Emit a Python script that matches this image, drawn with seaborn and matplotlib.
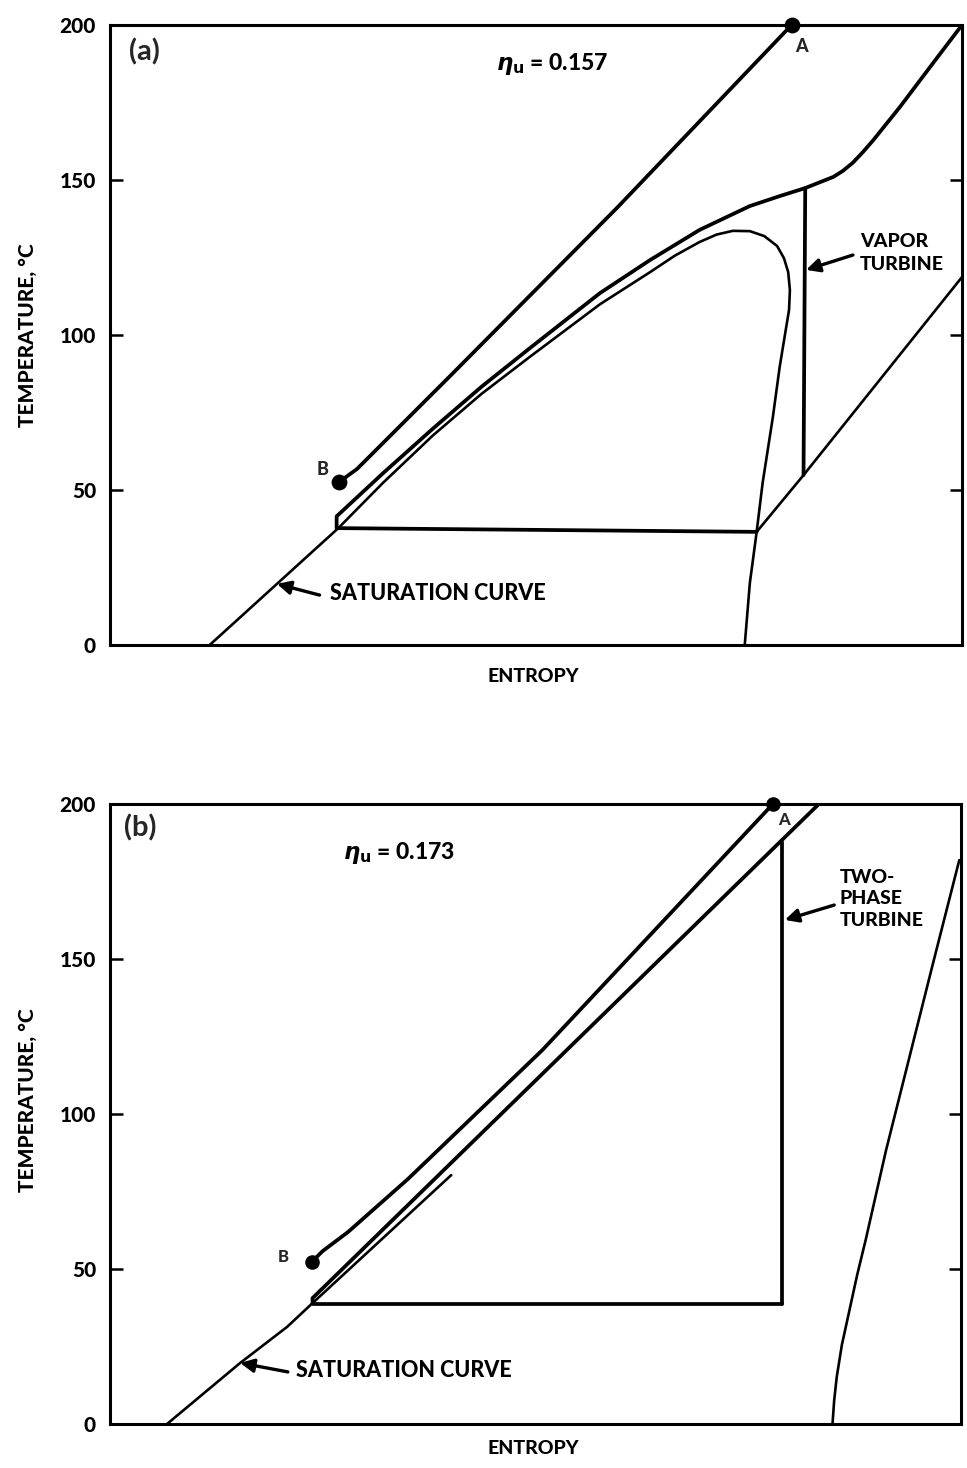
import numpy as np
import pandas as pd
import matplotlib
matplotlib.use("Agg")
import matplotlib.pyplot as plt
import seaborn as sns

# ---------------- data: panel (a), vapor turbine cycle ----------------
# entropy is in arbitrary units (0-100 across the plot), temperature in deg C
a_source_s = [26.9, 29.0, 40.0, 59.5, 80.0]
a_source_T = [52.6, 56.8, 87.0, 141.0, 200.0]

a_heat_s = [26.6, 26.6, 32.0, 37.9, 43.6, 49.3, 57.5, 63.4, 69.2, 75.1, 78.6, 81.6,
            84.9, 86.0, 87.2, 88.4, 89.6, 92.7, 96.6, 100.0]
a_heat_T = [37.7, 41.5, 55.3, 69.8, 83.3, 95.8, 113.5, 124.2, 133.9, 141.6, 144.8, 147.4,
            151.0, 152.9, 155.6, 159.1, 162.9, 173.5, 187.7, 200.0]

a_sat_s = [11.7, 26.8, 32.0, 37.9, 43.6, 49.3, 57.5, 63.4, 66.3, 69.2, 71.2, 73.1, 75.1,
           76.8, 78.3, 79.1, 79.6, 79.8, 79.7, 78.6, 77.8, 76.6, 75.9, 75.1, 74.5]
a_sat_T = [0.0, 37.7, 52.2, 67.6, 81.0, 93.0, 109.9, 120.3, 125.6, 130.0, 132.4, 133.6, 133.5,
           131.9, 128.7, 124.8, 120.3, 114.5, 108.1, 89.7, 73.5, 52.3, 36.5, 20.0, 0.0]

a_cond_s = [26.8, 75.9]
a_cond_T = [37.7, 36.5]

a_turb_s = [81.6, 81.4]
a_turb_T = [147.4, 54.8]

a_desup_s = [75.9, 81.4, 100.0]
a_desup_T = [36.5, 54.8, 118.7]

a_points_s = [80.0, 26.9]
a_points_T = [200.0, 52.6]

# ---------------- data: panel (b), two-phase turbine cycle ----------------
b_source_s = [23.7, 25.0, 28.0, 35.0, 50.8, 77.9]
b_source_T = [52.3, 55.8, 62.0, 79.0, 120.6, 200.0]

b_heat_s = [23.8, 23.8, 83.3]
b_heat_T = [39.0, 40.6, 200.0]

b_liq_s = [6.7, 15.3, 20.8, 23.8, 40.1]
b_liq_T = [0.0, 19.7, 31.3, 39.0, 80.3]

b_vap_s = [84.9, 85.1, 85.4, 86.0, 86.9, 87.8, 88.8, 91.2, 96.6, 99.8]
b_vap_T = [0.0, 7.7, 15.2, 25.5, 36.8, 48.1, 59.4, 88.4, 147.4, 181.9]

b_cond_s = [23.8, 79.0]
b_cond_T = [38.6, 38.6]

b_turb_s = [79.0, 79.0]
b_turb_T = [187.7, 38.6]

b_points_s = [77.9, 23.7]
b_points_T = [200.0, 52.3]

y_ticks = [0, 50, 100, 150, 200]
efficiency = ["0.157", "0.173"]

# ---------------- style ----------------
sns.set_theme(style="white")
plt.rcParams["font.family"] = ["Lato", "DejaVu Sans"]
plt.rcParams["font.weight"] = "heavy"
plt.rcParams["mathtext.fontset"] = "dejavusans"

FIG_W, FIG_H = 967, 1468
fig = plt.figure(figsize=(FIG_W / 100, FIG_H / 100), dpi=100)
fig.patch.set_facecolor("white")

ax_a = fig.add_axes([110 / FIG_W, 1 - 645 / FIG_H, 852 / FIG_W, 620 / FIG_H])
ax_b = fig.add_axes([110 / FIG_W, 1 - 1424 / FIG_H, 851 / FIG_W, 620 / FIG_H])

HEAVY = 2.7
LIGHT = 1.9
WEIGHT = "black"


def curve(ax, s, T, lw):
    sns.lineplot(x=s, y=T, sort=False, estimator=None, color="black",
                 linewidth=lw, ax=ax, solid_joinstyle="round",
                 solid_capstyle="round")


def frame(ax):
    ax.set_xlim(0, 100)
    ax.set_ylim(0, 200)
    ax.set_xticks([])
    ax.set_yticks(y_ticks)
    ax.set_yticklabels([str(t) for t in y_ticks], fontsize=15, fontweight=WEIGHT)
    ax.tick_params(axis="y", which="both", direction="in", length=9, width=1.8,
                   left=True, right=True, labelleft=True, labelright=False, pad=10,
                   colors="black")
    for sp in ax.spines.values():
        sp.set_visible(True)
        sp.set_color("black")
        sp.set_linewidth(2.2)
    ax.set_xlabel("")
    ax.set_ylabel("")
    ax.set_facecolor("white")


def pointer(ax, text_xy, tip_xy):
    ax.annotate("", xy=tip_xy, xytext=text_xy,
                arrowprops=dict(arrowstyle="-|>", color="black", lw=2.4,
                                mutation_scale=20, shrinkA=0, shrinkB=0))


label_kw = dict(fontsize=14, fontweight=WEIGHT, color="black")
sat_kw = dict(fontsize=15.5, fontweight=WEIGHT, color="black")
eta_kw = dict(fontsize=16.5, fontweight=WEIGHT, color="black")

# ---------------- panel (a) ----------------
curve(ax_a, a_sat_s, a_sat_T, LIGHT)
curve(ax_a, a_desup_s, a_desup_T, LIGHT)
curve(ax_a, a_source_s, a_source_T, HEAVY)
curve(ax_a, a_heat_s, a_heat_T, HEAVY)
curve(ax_a, a_cond_s, a_cond_T, HEAVY)
curve(ax_a, a_turb_s, a_turb_T, HEAVY)
sns.scatterplot(x=a_points_s, y=a_points_T, color="black", s=130, ax=ax_a,
                edgecolor="black", linewidth=0, clip_on=False, zorder=5)
frame(ax_a)

ax_a.text(4.0, 191.3, "(a)", fontsize=21, fontweight="bold", ha="center", va="center")
ax_a.text(51.9, 187.4, r"$\eta_{\mathbf{u}}$ = " + efficiency[0], ha="center", va="center", **eta_kw)
ax_a.text(81.2, 193.2, "A", ha="center", va="center", fontsize=13, fontweight=WEIGHT)
ax_a.text(24.9, 56.5, "B", ha="center", va="center", fontsize=13, fontweight=WEIGHT)
ax_a.text(88.0, 133.0, "VAPOR\nTURBINE", ha="left", va="top", linespacing=1.45, **label_kw)
pointer(ax_a, (87.2, 125.8), (81.7, 121.0))
ax_a.text(25.8, 16.5, "SATURATION CURVE", ha="left", va="center", **sat_kw)
pointer(ax_a, (24.6, 16.1), (19.6, 19.7))

# ---------------- panel (b) ----------------
curve(ax_b, b_liq_s, b_liq_T, LIGHT)
curve(ax_b, b_vap_s, b_vap_T, LIGHT)
curve(ax_b, b_source_s, b_source_T, HEAVY)
curve(ax_b, b_heat_s, b_heat_T, HEAVY)
curve(ax_b, b_cond_s, b_cond_T, HEAVY)
curve(ax_b, b_turb_s, b_turb_T, HEAVY)
sns.scatterplot(x=b_points_s, y=b_points_T, color="black", s=110, ax=ax_b,
                edgecolor="black", linewidth=0, clip_on=False, zorder=5)
frame(ax_b)

ax_b.text(3.6, 192.3, "(b)", fontsize=21, fontweight="bold", ha="center", va="center")
ax_b.text(34.0, 184.2, r"$\eta_{\mathbf{u}}$ = " + efficiency[1], ha="center", va="center", **eta_kw)
ax_b.text(79.2, 194.8, "A", ha="center", va="center", fontsize=12, fontweight=WEIGHT)
ax_b.text(20.3, 53.9, "B", ha="center", va="center", fontsize=12, fontweight=WEIGHT)
ax_b.text(85.7, 179.0, "TWO-\nPHASE\nTURBINE", ha="left", va="top", linespacing=1.3, **label_kw)
pointer(ax_b, (85.1, 167.4), (79.3, 162.6))
ax_b.text(21.9, 17.1, "SATURATION CURVE", ha="left", va="center", **sat_kw)
pointer(ax_b, (20.9, 16.8), (15.3, 19.7))

# ---------------- axis titles ----------------
for y_px in (676, 1448):
    fig.text(533 / FIG_W, 1 - y_px / FIG_H, "ENTROPY", ha="center", va="center", **label_kw)
for y_px in (335, 1100):
    fig.text(28 / FIG_W, 1 - y_px / FIG_H, "TEMPERATURE, °C", rotation=90,
             ha="center", va="center", fontsize=15, fontweight=WEIGHT, color="black")

fig.savefig("out.png", dpi=100, facecolor="white")
